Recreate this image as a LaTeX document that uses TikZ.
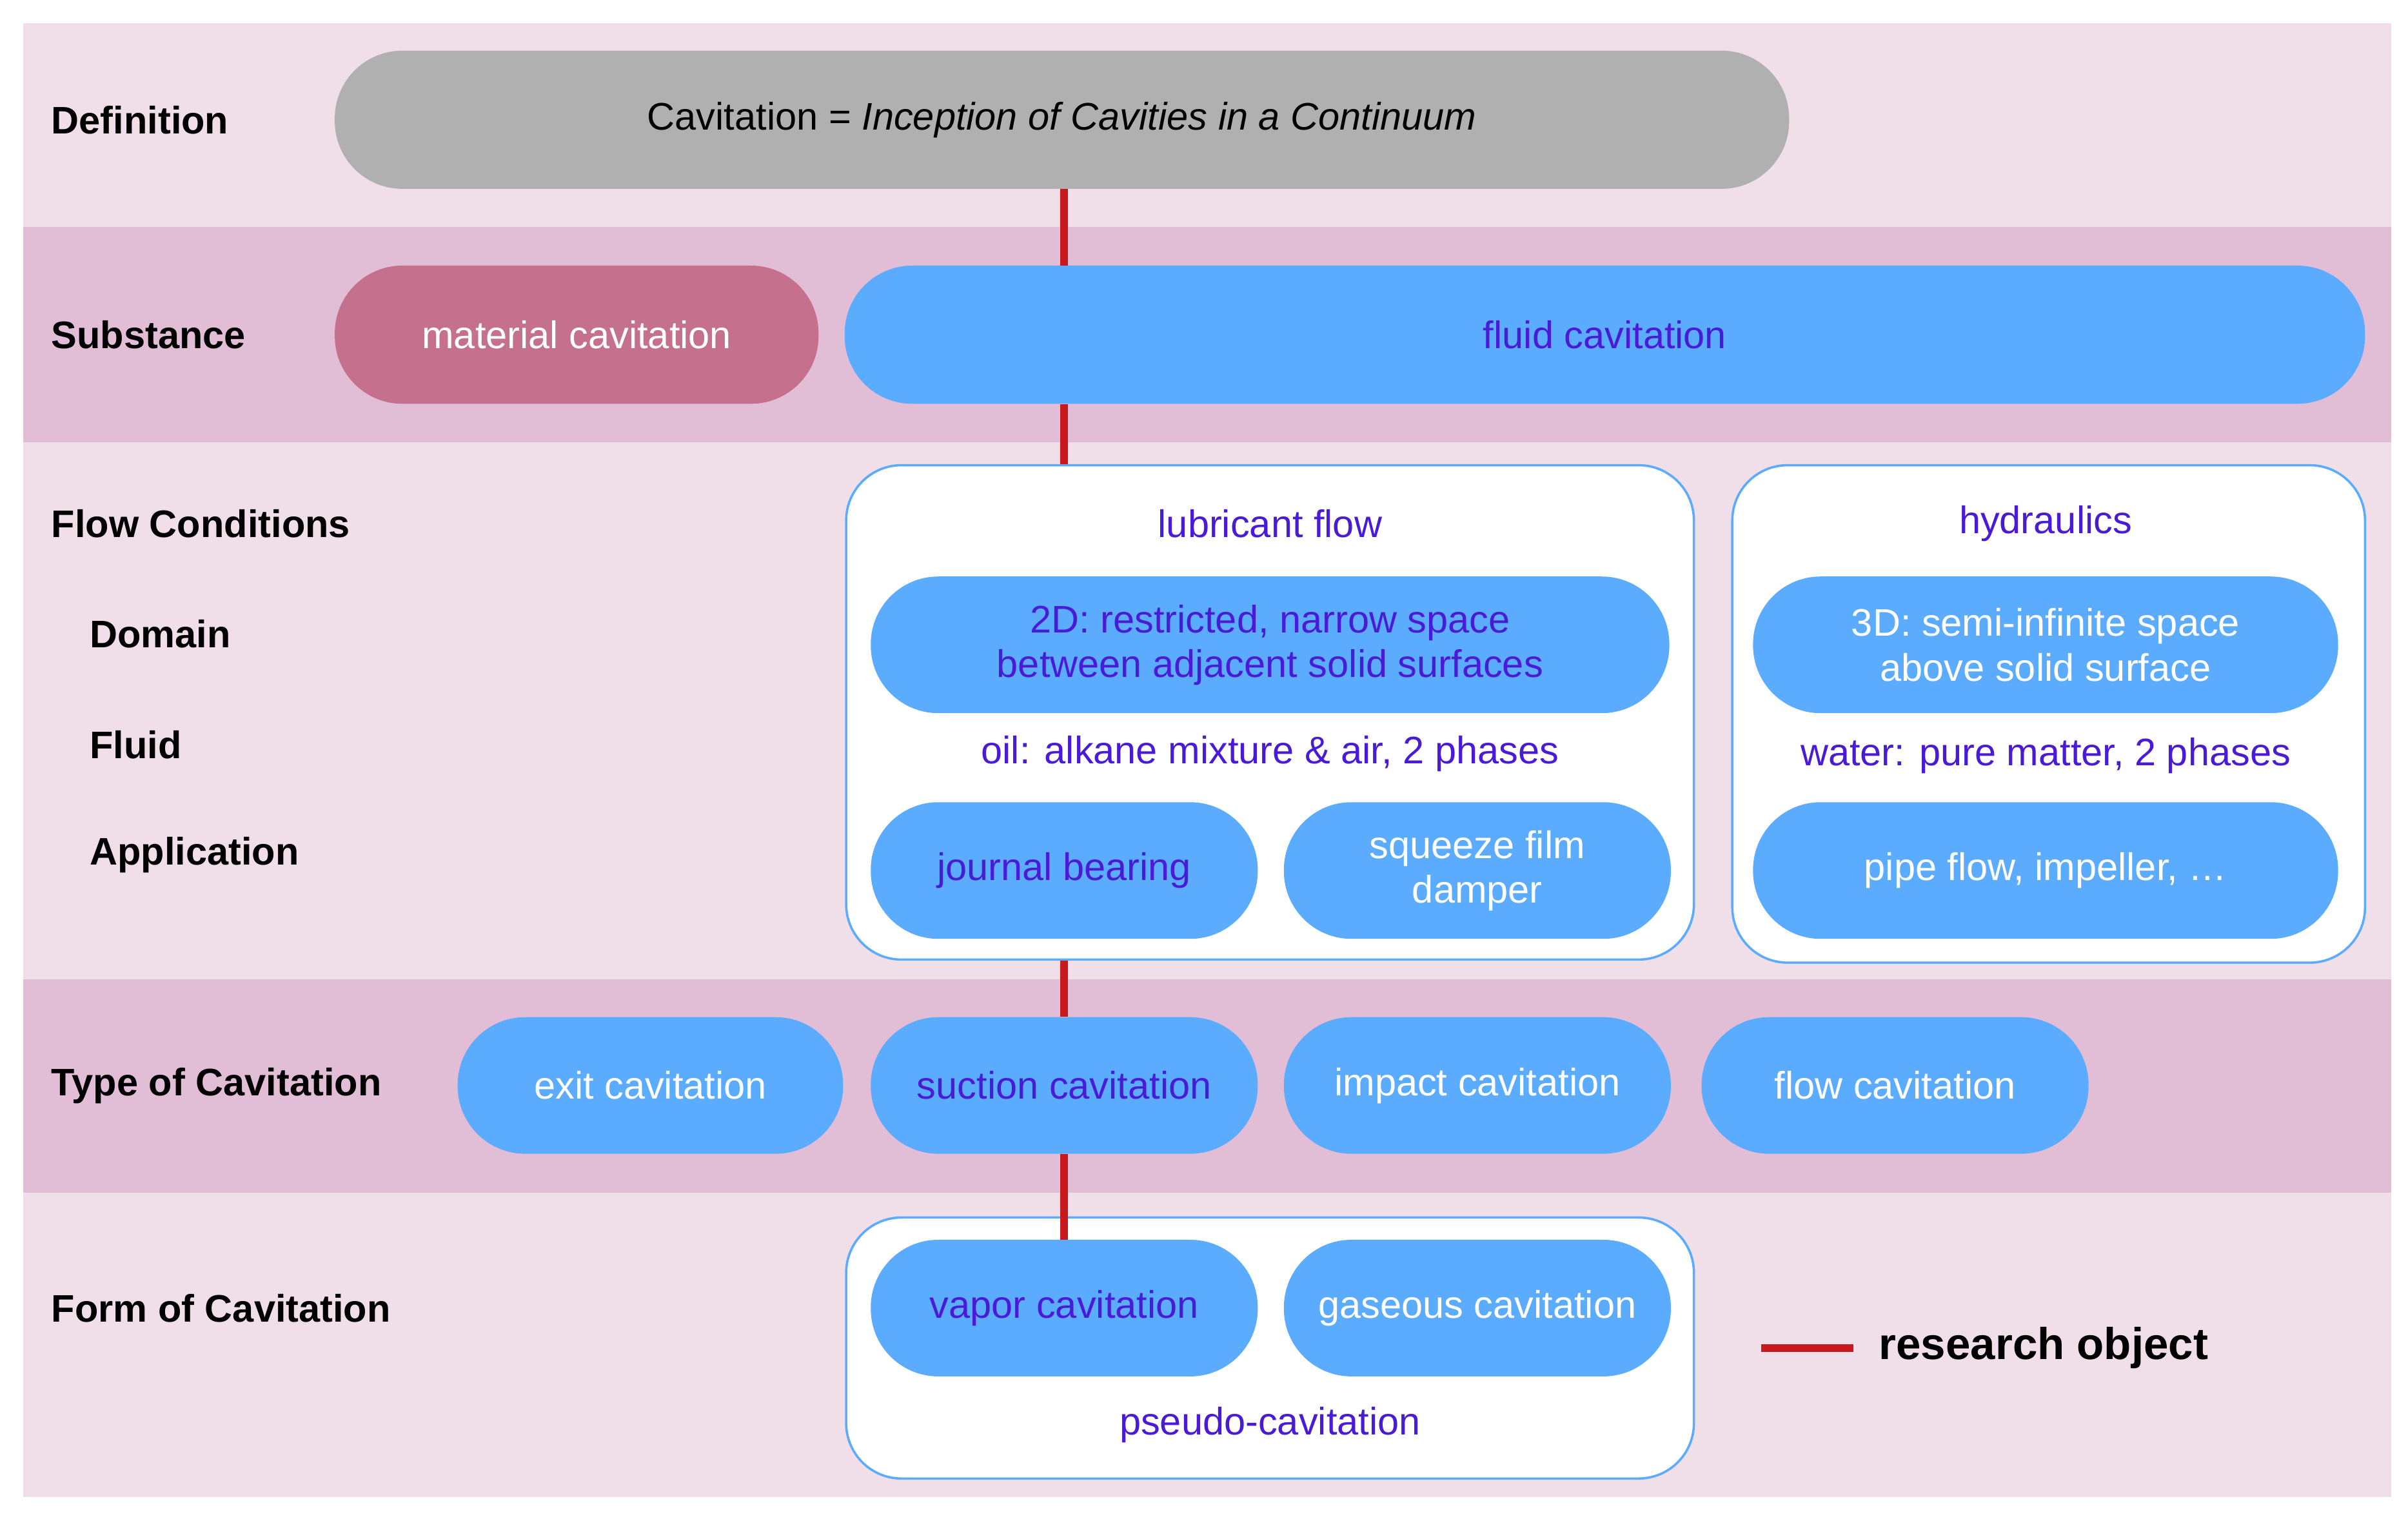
\documentclass[tikz,border=0pt]{standalone}
\usepackage{fontspec}
\setmainfont{Liberation Sans}
\begin{document}
\begin{tikzpicture}[x=1pt,y=-1pt,
  pill/.style={rounded corners=44pt,fill=pblue,draw=none,align=center,font=\fontsize{25}{29}\selectfont,inner sep=0pt},
  box/.style={rounded corners=36pt,fill=white,draw=bline,line width=1.5pt,inner sep=0pt},
  lab/.style={anchor=west,font=\bfseries\fontsize{25}{29}\selectfont},
  conn/.style={draw=rline,line width=5pt},
  pt/.style={text=ptext},
  wt/.style={text=white}]
\definecolor{pblue}{HTML}{5BACFE}
\definecolor{bline}{HTML}{5BACFE}
\definecolor{ptext}{HTML}{4A1BD6}
\definecolor{rline}{HTML}{C8191E}
\definecolor{lband}{HTML}{F0DFE9}
\definecolor{dband}{HTML}{E2BDD6}
\useasboundingbox (0,0) rectangle (1568,988);
\fill[white] (0,0) rectangle (1568,988);
\fill[lband] (15,15) rectangle (1557,148);
\fill[dband] (15,148) rectangle (1557,288);
\fill[lband] (15,288) rectangle (1557,638);
\fill[dband] (15,638) rectangle (1557,777);
\fill[lband] (15,777) rectangle (1557,975);
% left labels
\node[lab] (l1) at (30,78) {Definition};
\node[lab] (l2) at (30,218) {Substance};
\node[lab] (l3) at (30,341) {Flow Conditions};
\node[lab] (l4) at (55,413) {Domain};
\node[lab] (l5) at (55,485) {Fluid};
\node[lab] (l6) at (55,557) {Application};
\node[lab] (l7) at (30,707) {Type of Cavitation};
\node[lab] (l8) at (30,852) {Form of Cavitation};
% boxes
\node[box,minimum width=552,minimum height=322] (lub) at (827,464) {};
\node[box,minimum width=412,minimum height=324] (hyd) at (1334,465) {};
\node[box,minimum width=552,minimum height=170] (pse) at (827,878) {};
% nodes
\node[pill,fill=gray!62,minimum width=947,minimum height=90] (def) at (691.5,78) {Cavitation = \textit{Inception of Cavities in a Continuum}};
\node[pill,fill={rgb,255:red,197;green,113;blue,142},wt,minimum width=315,minimum height=90] (mat) at (375.5,218) {material cavitation};
\node[pill,pt,minimum width=990,minimum height=90] (fluid) at (1045,218) {fluid cavitation};
\node[pt,font=\fontsize{25}{29}\selectfont] (lubt) at (827,341) {lubricant flow};
\node[pill,pt,minimum width=520,minimum height=89] (d2) at (827,420) {2D: restricted, narrow space\\between adjacent solid surfaces};
\node[pt,font=\fontsize{25}{29}\selectfont] (oil) at (827,491) {oil: alkane mixture \& air, 2 phases};
\node[pill,pt,minimum width=252,minimum height=89] (jb) at (693,567) {journal bearing};
\node[pill,wt,minimum width=252,minimum height=89] (sq) at (962,567) {squeeze film\\damper};
\node[pt,font=\fontsize{25}{29}\selectfont] (hydt) at (1332,341) {hydraulics};
\node[pill,wt,minimum width=381,minimum height=89] (d3) at (1332,420) {3D: semi-infinite space\\above solid surface};
\node[pt,font=\fontsize{25}{29}\selectfont] (wat) at (1332,492) {water: pure matter, 2 phases};
\node[pill,wt,minimum width=381,minimum height=89] (pipe) at (1332,567) {pipe flow, impeller, \dots};
\node[pill,wt,minimum width=251,minimum height=89] (exit) at (423.5,707) {exit cavitation};
\node[pill,pt,minimum width=252,minimum height=89] (suc) at (693,707) {suction cavitation};
\node[pill,wt,minimum width=252,minimum height=89] (imp) at (962,707) {impact cavitation};
\node[pill,wt,minimum width=252,minimum height=89] (flow) at (1234,707) {flow cavitation};
\node[pill,pt,minimum width=252,minimum height=89] (vap) at (693,852) {vapor cavitation};
\node[pill,wt,minimum width=252,minimum height=89] (gas) at (962,852) {gaseous cavitation};
\node[pt,font=\fontsize{25}{29}\selectfont] (pset) at (827,928) {pseudo-cavitation};
% connectors
\draw[conn] (def.south -| suc.center) -- (fluid.north -| suc.center);
\draw[conn] (fluid.south -| suc.center) -- (lub.north -| suc.center);
\draw[conn] (lub.south -| suc.center) -- (suc.north);
\draw[conn] (suc.south) -- (vap.north);
% legend
\coordinate (la) at (1147,878);
\coordinate (lb) at (1207,878);
\draw[conn] (la) -- (lb);
\node[anchor=west,font=\bfseries\fontsize{29}{33}\selectfont] (leg) at (1220,878) {research object};
\end{tikzpicture}
\end{document}
